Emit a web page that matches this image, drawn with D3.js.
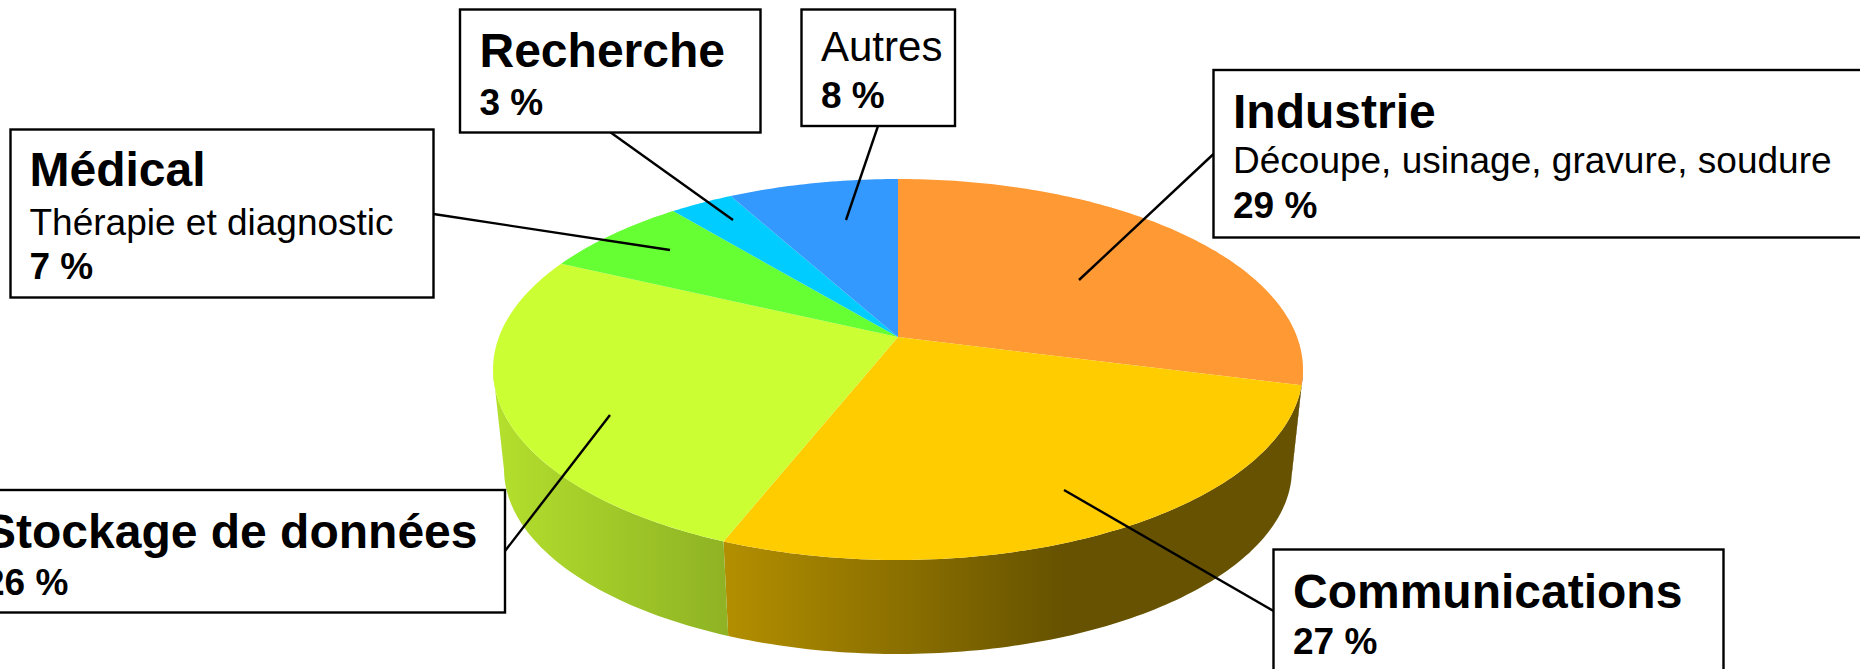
<!DOCTYPE html>
<html>
<head>
<meta charset="utf-8">
<script src="https://cdn.jsdelivr.net/npm/d3@7"></script>
<style>
  html, body { margin: 0; padding: 0; background: #fff; overflow: hidden; }
  text { font-family: "Liberation Sans", Arial, sans-serif; fill: #000; }
</style>
</head>
<body>
<svg id="svg" width="1860" height="669"></svg>
<script>
const categories = ['Industrie', 'Communications', 'Stockage de données', 'Médical', 'Recherche', 'Autres']
const shares = [29, 27, 26, 7, 3, 8]
const details = ['Découpe, usinage, gravure, soudure', '', '', 'Thérapie et diagnostic', '', '']
const colors = ['#ff9933', '#ffcc00', '#ccff33', '#66ff33', '#00ccff', '#3399ff']

// callout boxes, by slice index
const callouts = [
	{ box: [1213.5, 70, 660, 167.5], text: [1233, 128, 173, 218], leader: [1213.5, 154, 1079, 280] },
	{ box: [1273.5, 549.5, 450, 140], text: [1293, 608, null, 654], leader: [1273.5, 611, 1064, 490] },
	{ box: [-20, 490, 525, 122.5], text: [-16, 548, null, 595], leader: [505, 551, 610, 415] },
	{ box: [10.5, 129.5, 423, 168], text: [29.5, 186, 235, 279], leader: [433.5, 214, 670, 250] },
	{ box: [460, 9.5, 300.5, 123], text: [479.5, 67, null, 115], leader: [610, 132, 733, 220] },
	{ box: [801.5, 9.5, 153.5, 116.5], text: [821, 61, null, 108], leader: [878, 126, 846, 220] }
]

const $svg = d3.select('#svg')

const TILT = -0.17
const top_ = { cx: 898, cy: 369.5, rx: 405, ry: 190.5 }
const bottom_ = { cx: 898, cy: 469, rx: 394, ry: 185 }

// the wall only shows between the two silhouette angles
const WALL_FROM = 100 * Math.PI / 180
const WALL_TO = 260 * Math.PI / 180

// projects an angle on the disc, seen in perspective (the pie's centre sits above the ellipse's)
const project = (face, angle) => {
	const u = Math.sin(angle)
	const v = -Math.cos(angle)
	const w = 1 + TILT * v
	return [
		face.cx + face.rx * Math.sqrt(1 - TILT * TILT) * u / w,
		face.cy + face.ry * (v + TILT) / w
	]
}

const arcPoints = (face, start, end) => {
	const n = Math.max(2, Math.ceil((end - start) * 60))
	return d3.range(n + 1).map(i => project(face, start + (end - start) * i / n))
}

const slices = d3.pie().sort(null).value(d => d)(shares)
const line = d3.line()

const defs = $svg.append('defs')

const shadeOf = (color, k) => {
	const c = d3.rgb(color)
	return d3.rgb(c.r * k, c.g * k, c.b * k).formatHex()
}

// offset + brightness stops of each wall, orange takes the dark end
const wallShades = [
	[[0, 0.4], [1, 0.4]],
	[[0, 0.7], [0.59, 0.4], [1, 0.4]],
	[[0, 0.88], [1, 0.7]]
]

const walls = slices
	.map((s, i) => ({
		index: i,
		start: Math.max(s.startAngle, WALL_FROM),
		end: Math.min(s.endAngle, WALL_TO)
	}))
	.filter(d => d.end > d.start)

walls.forEach(d => {
	const xs = arcPoints(top_, d.start, d.end).map(p => p[0])
	const g = defs.append('linearGradient')
		.attr('id', `wall${d.index}`)
		.attr('gradientUnits', 'userSpaceOnUse')
		.attr('x1', d3.min(xs)).attr('x2', d3.max(xs))
		.attr('y1', 0).attr('y2', 0)
	wallShades[d.index].forEach(([o, k]) => {
		g.append('stop')
			.attr('offset', o)
			.attr('stop-color', shadeOf(colors[d.index], k))
	})
})

// walls first, the top face hides whatever is behind
$svg.append('g').selectAll('path').data(walls).join('path')
	.attr('d', d => {
		const upper = arcPoints(top_, d.start, d.end)
		const lower = arcPoints(bottom_, d.start, d.end).reverse()
		return line(upper.concat(lower)) + 'Z'
	})
	.attr('fill', d => `url(#wall${d.index})`)

$svg.append('g').selectAll('path').data(slices).join('path')
	.attr('d', s => {
		const apex = [top_.cx, top_.cy + top_.ry * TILT]
		return line([apex].concat(arcPoints(top_, s.startAngle, s.endAngle))) + 'Z'
	})
	.attr('fill', (s, i) => colors[i])

const $callouts = $svg.append('g').selectAll('g').data(callouts).join('g')

$callouts.append('line')
	.attr('x1', d => d.leader[0]).attr('y1', d => d.leader[1])
	.attr('x2', d => d.leader[2]).attr('y2', d => d.leader[3])
	.attr('stroke', '#000')
	.attr('stroke-width', 2.4)

$callouts.append('rect')
	.attr('x', d => d.box[0]).attr('y', d => d.box[1])
	.attr('width', d => d.box[2]).attr('height', d => d.box[3])
	.attr('fill', '#fff')
	.attr('stroke', '#000')
	.attr('stroke-width', 2.4)

// name: bold and large, except "Autres"
$callouts.append('text')
	.attr('x', d => d.text[0]).attr('y', d => d.text[1])
	.attr('font-size', (d, i) => i === 5 ? 42 : 48)
	.attr('font-weight', (d, i) => i === 5 ? 'normal' : 'bold')
	.text((d, i) => categories[i])

$callouts.filter((d, i) => details[i]).append('text')
	.attr('x', d => d.text[0]).attr('y', d => d.text[2])
	.attr('font-size', 37)
	.text(d => details[callouts.indexOf(d)])

$callouts.append('text')
	.attr('x', d => d.text[0]).attr('y', d => d.text[3])
	.attr('font-size', 37)
	.attr('font-weight', 'bold')
	.text((d, i) => `${shares[i]} %`)
</script>
</body>
</html>
